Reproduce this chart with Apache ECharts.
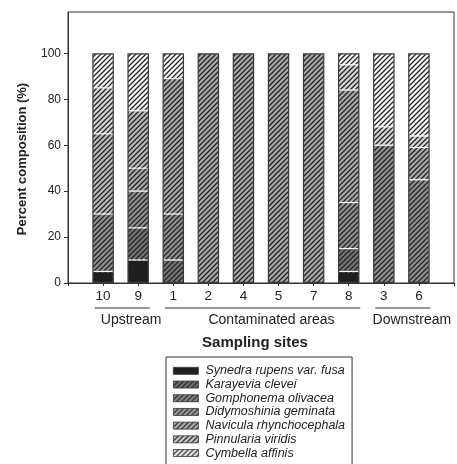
<!DOCTYPE html>
<html>
<head>
<meta charset="utf-8">
<script src="https://cdn.jsdelivr.net/npm/echarts@6/dist/echarts.min.js"></script>
<style>html,body{margin:0;padding:0;background:#fff}#c{width:457px;height:464px}</style>
</head>
<body>
<div id="c"></div>
<script>
const sites = ['10','9','1','2','4','5','7','8','3','6'];
const speciesNames = ['Synedra rupens var. fusa','Karayevia clevei','Gomphonema olivacea','Didymoshinia geminata','Navicula rhynchocephala','Pinnularia viridis','Cymbella affinis'];
const synedra      = [5, 10, 0, 0, 0, 0, 0, 5, 0, 0];
const karayevia    = [0, 14, 10, 0, 0, 0, 0, 10, 0, 0];
const gomphonema   = [25, 16, 20, 0, 0, 0, 0, 20, 60, 45];
const didymoshinia = [0, 10, 59, 100, 100, 100, 100, 49, 0, 14];
const navicula     = [35, 25, 0, 0, 0, 0, 0, 0, 0, 0];
const pinnularia   = [20, 0, 0, 0, 0, 0, 0, 11, 8, 5];
const cymbella     = [15, 25, 11, 0, 0, 0, 0, 5, 32, 36];
const yTicks = [0, 20, 40, 60, 80, 100];
const groups = [
  {name: 'Upstream', from: '10', to: '9'},
  {name: 'Contaminated areas', from: '1', to: '8'},
  {name: 'Downstream', from: '3', to: '6'}
];

const seriesValues = [synedra, karayevia, gomphonema, didymoshinia, navicula, pinnularia, cymbella];
const fills = ['#1f1f1f', '#747474', '#8e8e8e', '#a8a8a8', '#b8b8b8', '#d4d4d4', '#fafafa'];

function hatch(bg) {
  const c = document.createElement('canvas');
  c.width = 5; c.height = 5;
  const g = c.getContext('2d');
  g.fillStyle = bg; g.fillRect(0, 0, 5, 5);
  g.strokeStyle = '#242424'; g.lineWidth = 1.25;
  g.beginPath();
  g.moveTo(-1, 6); g.lineTo(6, -1);
  g.moveTo(-1, 1); g.lineTo(1, -1);
  g.moveTo(4, 6); g.lineTo(6, 4);
  g.stroke();
  return c;
}

const cats = [''].concat(sites, ['']);
const pad = arr => [null].concat(arr.map(v => v === 0 ? null : v), [null]);
const totals = sites.map((s, i) => seriesValues.reduce((a, arr) => a + arr[i], 0));

const FONT = "'Liberation Sans', Arial, sans-serif";

const series = speciesNames.map((name, k) => ({
  name: name,
  type: 'bar',
  stack: 'total',
  barWidth: 21.5,
  data: pad(seriesValues[k]),
  itemStyle: {
    color: k === 0 ? fills[0] : {image: hatch(fills[k]), repeat: 'repeat'},
    borderColor: 'rgba(255,255,255,0.4)',
    borderType: [3, 2],
    borderWidth: 1
  },
  emphasis: {disabled: true},
  silent: true
}));
series.push({
  name: 'outline',
  type: 'bar',
  barWidth: 21.5,
  barGap: '-100%',
  z: 5,
  data: pad(totals),
  itemStyle: {color: 'rgba(0,0,0,0)', borderColor: '#3a3a3a', borderWidth: 1.2},
  emphasis: {disabled: true},
  silent: true
});

const option = {
  animation: false,
  backgroundColor: '#fff',
  textStyle: {fontFamily: FONT},
  grid: {left: 68, right: 3, top: 12, bottom: 181, show: true, borderColor: '#333', borderWidth: 1},
  xAxis: {
    type: 'category',
    data: cats,
    boundaryGap: false,
    axisLine: {show: true, lineStyle: {color: '#333', width: 1}},
    axisTick: {show: true, length: 3, lineStyle: {color: '#333'}},
    axisLabel: {show: true, interval: 0, margin: 6, color: '#222', fontSize: 13.5, fontFamily: FONT},
    splitLine: {show: false}
  },
  yAxis: {
    type: 'value',
    min: 0,
    max: 118,
    interval: 20,
    axisLine: {show: true, lineStyle: {color: '#333', width: 1}},
    axisTick: {show: true, length: 4, lineStyle: {color: '#333'}, customValues: yTicks},
    axisLabel: {show: true, margin: 7, color: '#222', fontSize: 12, fontFamily: FONT, customValues: yTicks,
      formatter: v => (v > 100 ? '' : String(v))},
    splitLine: {show: false}
  },
  legend: {
    data: speciesNames,
    orient: 'vertical',
    left: 166,
    top: 357,
    width: 200,
    height: 100,
    padding: 7,
    itemGap: 0,
    itemWidth: 25,
    itemHeight: 7,
    icon: 'rect',
    borderColor: '#333',
    borderWidth: 1,
    selectedMode: false,
    itemStyle: {borderColor: '#333', borderWidth: 0.8, borderType: 'solid'},
    textStyle: {fontStyle: 'italic', fontSize: 12.5, color: '#222', fontFamily: FONT, lineHeight: 13.7, padding: [0, 0, 0, 2]}
  },
  series: series
};

const chart = echarts.init(document.getElementById('c'), null, {renderer: 'canvas'});
chart.setOption(option);

const gfx = [];
groups.forEach(g => {
  const x1 = chart.convertToPixel({xAxisIndex: 0}, g.from) - 8.5;
  const x2 = chart.convertToPixel({xAxisIndex: 0}, g.to) + 11.5;
  gfx.push({type: 'line', silent: true, shape: {x1: x1, y1: 308, x2: x2, y2: 308}, style: {stroke: '#333', lineWidth: 1}});
  gfx.push({type: 'text', silent: true, x: (x1 + x2) / 2 + 9, y: 320,
    style: {text: g.name, fill: '#222', font: '14px ' + FONT, align: 'center', verticalAlign: 'middle', textAlign: 'center', textVerticalAlign: 'middle'}});
});
gfx.push({type: 'text', silent: true, x: 255, y: 343,
  style: {text: 'Sampling sites', fill: '#222', font: 'bold 15px ' + FONT, align: 'center', verticalAlign: 'middle', textAlign: 'center', textVerticalAlign: 'middle'}});
gfx.push({type: 'text', silent: true, x: 22, y: 159, rotation: Math.PI / 2,
  style: {text: 'Percent composition (%)', fill: '#222', font: 'bold 13px ' + FONT, align: 'center', verticalAlign: 'middle', textAlign: 'center', textVerticalAlign: 'middle'}});
chart.setOption({graphic: {elements: gfx}});
</script>
</body>
</html>
